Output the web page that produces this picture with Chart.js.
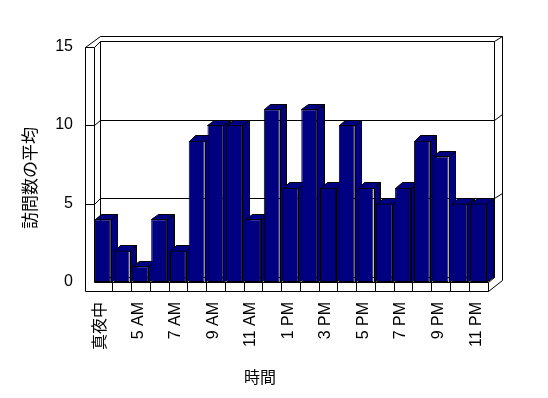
<!DOCTYPE html>
<html>
<head>
<meta charset="utf-8">
<script src="https://cdn.jsdelivr.net/npm/chart.js@4"></script>
<style>
  body { margin: 0; background: #fff; }
</style>
</head>
<body>
<canvas id="myChart" width="548" height="398"></canvas>
<script>
const hours = ['真夜中', '4 AM', '5 AM', '6 AM', '7 AM', '8 AM', '9 AM', '10 AM', '11 AM', '正午', '1 PM',
  '2 PM', '3 PM', '4 PM', '5 PM', '6 PM', '7 PM', '8 PM', '9 PM', '10 PM', '11 PM'];
const avgVisits = [4, 2, 1, 4, 2, 9, 10, 10, 4, 11, 6, 11, 6, 10, 6, 5, 6, 9, 8, 5, 5];
const yTicks = [0, 5, 10, 15];
const xTitle = '時間';
const yTitle = '訪問数の平均';

// depth of the box: to the back wall's inner face, and to its outer face
const DX = 6.5, DY = -5.5;
const OX = 14.5, OY = -11;
const WALL = 8.5, FLOOR = 8.7;
const NAVY = '#000080';

function poly(ctx, pts, fill, close) {
  ctx.beginPath();
  pts.forEach((p, i) => {
    const px = Math.round(p[0]) + 0.5, py = Math.round(p[1]) + 0.5;
    if (i === 0) ctx.moveTo(px, py); else ctx.lineTo(px, py);
  });
  if (close || fill) ctx.closePath();
  if (fill) { ctx.fillStyle = fill; ctx.fill(); }
  ctx.stroke();
}

const box3d = {
  id: 'box3d',
  beforeDatasetsDraw(chart) {
    const { ctx, chartArea: a, scales: { x, y } } = chart;
    const L = a.left, R = a.right;
    const T = y.getPixelForValue(yTicks[yTicks.length - 1]);
    const B = y.getPixelForValue(0);
    ctx.save();
    ctx.strokeStyle = '#000';
    ctx.lineWidth = 1;

    // back wall
    poly(ctx, [[L + DX, T + DY], [R + DX, T + DY], [R + DX, B + DY], [L + DX, B + DY]], null, true);
    poly(ctx, [[L - WALL, T], [L - WALL + OX, T + OY], [R + OX, T + OY], [R + DX, T + DY]]);
    poly(ctx, [[R + OX, T + OY], [R + OX, B + FLOOR + OY], [R, B + FLOOR]]);
    // left wall + floor edge
    poly(ctx, [[L - WALL, T], [L - WALL, B + FLOOR], [R, B + FLOOR], [R, B], [L, B], [L, T]], null, true);
    poly(ctx, [[L, T], [L + DX, T + DY]]);
    poly(ctx, [[R, B], [R + DX, B + DY]]);

    // gridlines on the walls
    yTicks.forEach(v => {
      if (v === 0 || v === yTicks[yTicks.length - 1]) return;
      const gy = y.getPixelForValue(v);
      poly(ctx, [[L - WALL, gy], [L, gy], [L + DX, gy + DY], [R + DX, gy + DY], [R + OX, gy + OY]]);
    });

    // category cells on the floor edge
    for (let k = 1; k < hours.length; k++) {
      const bx = (x.getPixelForValue(k - 1) + x.getPixelForValue(k)) / 2;
      poly(ctx, [[bx, B], [bx, B + FLOOR]]);
    }

    // side and top faces of the columns
    const meta = chart.getDatasetMeta(0);
    meta.data.forEach(bar => {
      const p = bar.getProps(['x', 'y', 'base', 'width'], true);
      const l = p.x - p.width / 2, r = p.x + p.width / 2;
      poly(ctx, [[r, p.y], [r + DX, p.y + DY], [r + DX, p.base + DY], [r, p.base]], NAVY);
      poly(ctx, [[l, p.y], [r, p.y], [r + DX, p.y + DY], [l + DX, p.y + DY]], NAVY);
    });
    ctx.restore();
  },
  afterDraw(chart) {
    const ctx = chart.ctx;
    ctx.save();
    ctx.fillStyle = '#000';
    ctx.textAlign = 'center';
    ctx.textBaseline = 'middle';
    ctx.font = '17px "Noto Sans CJK JP"';
    ctx.translate(30, 178);
    ctx.rotate(-Math.PI / 2);
    ctx.fillText(yTitle, 0, 0);
    ctx.restore();
    ctx.save();
    ctx.fillStyle = '#000';
    ctx.textAlign = 'center';
    ctx.textBaseline = 'middle';
    ctx.font = '16px "Noto Sans CJK JP"';
    ctx.fillText(xTitle, 260, 377);
    ctx.restore();
  }
};

Chart.defaults.font.family = "'Liberation Sans', 'Noto Sans CJK JP', sans-serif";
Chart.defaults.color = '#000';

const ctx = document.getElementById('myChart').getContext('2d');
const myChart = new Chart(ctx, {
  type: 'bar',
  data: {
    labels: hours,
    datasets: [
      {
        label: yTitle,
        data: avgVisits,
        backgroundColor: NAVY,
        borderColor: '#000',
        borderWidth: 1,
        borderSkipped: false,
        barPercentage: 0.85,
        categoryPercentage: 1,
      },
    ],
  },
  options: {
    responsive: false,
    animation: false,
    layout: { padding: { left: 0, right: 60.5, top: 46.5, bottom: 0 } },
    plugins: { legend: { display: false }, tooltip: { enabled: false } },
    scales: {
      x: {
        grid: { display: false, drawTicks: false },
        border: { display: false },
        ticks: {
          autoSkip: false,
          minRotation: 90,
          maxRotation: 90,
          padding: 20,
          labelOffset: -2,
          font: { size: 16 },
          // only every other hour gets a label
          callback: (value, index) => (index % 2 === 0 ? hours[index] : ''),
        },
        afterFit: scale => { scale.height = 116; },
      },
      y: {
        min: 0,
        max: 15,
        afterBuildTicks: scale => { scale.ticks = yTicks.map(v => ({ value: v })); },
        grid: { display: false, drawTicks: false },
        border: { display: false },
        ticks: { padding: 20.5, font: { size: 16 } },
        afterFit: scale => { scale.width = 93.5; },
      },
    },
  },
  plugins: [box3d],
});
</script>
</body>
</html>
